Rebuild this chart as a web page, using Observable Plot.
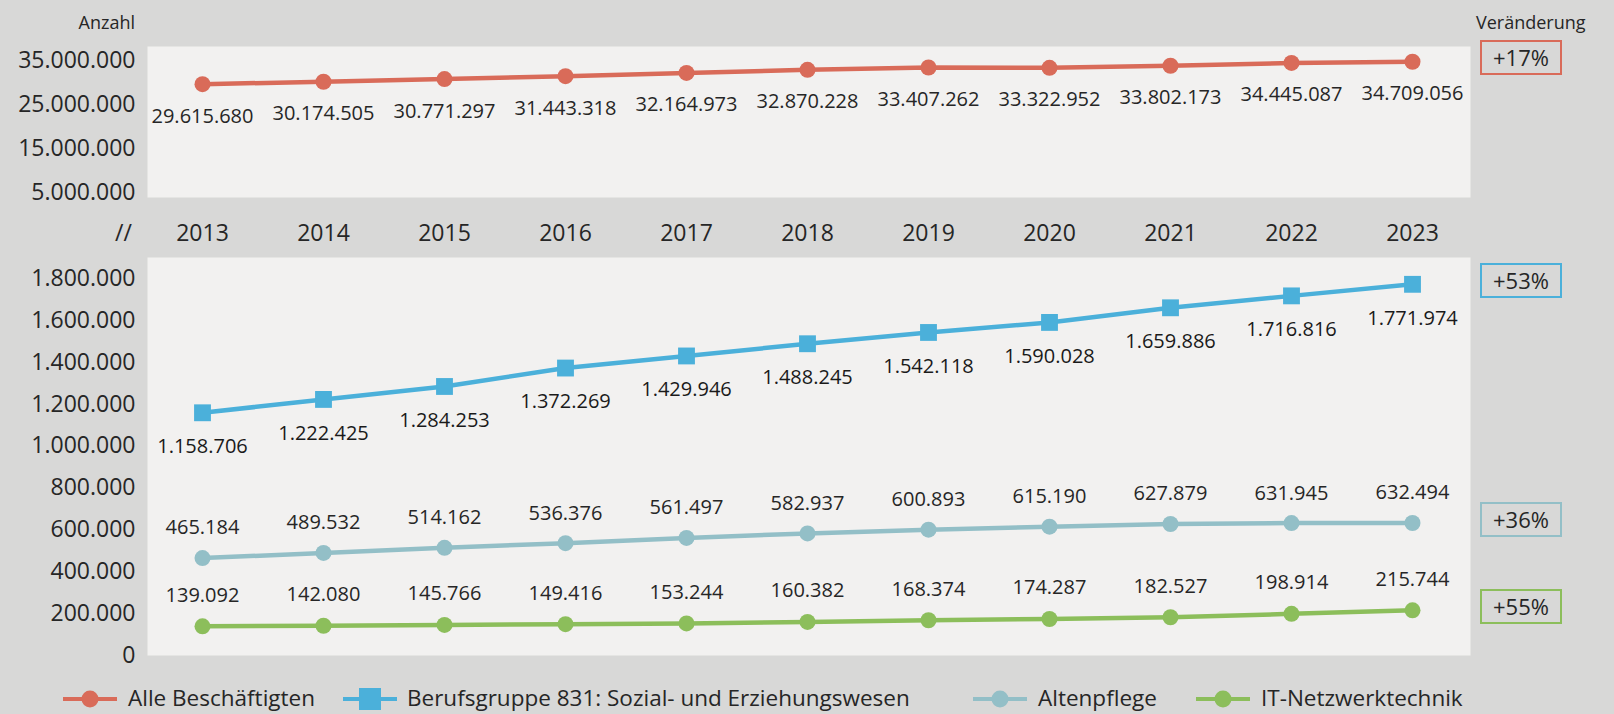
<!DOCTYPE html>
<html><head><meta charset="utf-8">
<script src="https://cdn.jsdelivr.net/npm/d3@7"></script>
<script src="https://cdn.jsdelivr.net/npm/@observablehq/plot@0.6"></script>
<style>
html,body{margin:0;padding:0;background:#D8D8D7;}
#root{position:relative;width:1614px;height:714px;overflow:hidden;font-family:"Open Sans",sans-serif;color:#262626;background:#D8D8D7;}
#root svg{position:absolute;left:0;overflow:visible;}
.t{position:absolute;white-space:nowrap;}
.badge{position:absolute;box-sizing:border-box;border:2px solid;width:82px;height:35px;line-height:31px;text-align:center;font-size:22px;color:#262626;}
.legtxt{position:absolute;top:684px;height:28px;line-height:28px;font-size:22.5px;white-space:nowrap;color:#262626;}
</style></head><body><div id="root"></div>
<script>
// ---- data ----
const years = [2013, 2014, 2015, 2016, 2017, 2018, 2019, 2020, 2021, 2022, 2023];
const alleBeschaeftigten = [29615680, 30174505, 30771297, 31443318, 32164973, 32870228, 33407262, 33322952, 33802173, 34445087, 34709056];
const sozialErziehung = [1158706, 1222425, 1284253, 1372269, 1429946, 1488245, 1542118, 1590028, 1659886, 1716816, 1771974];
const altenpflege = [465184, 489532, 514162, 536376, 561497, 582937, 600893, 615190, 627879, 631945, 632494];
const itNetzwerk = [139092, 142080, 145766, 149416, 153244, 160382, 168374, 174287, 182527, 198914, 215744];
const seriesNames = ["Alle Beschäftigten", "Berufsgruppe 831: Sozial- und Erziehungswesen", "Altenpflege", "IT-Netzwerktechnik"];
const seriesColors = ["#D96B59", "#4BB0DA", "#93BFC7", "#8CBE5B"];
const topTicks = [5000000, 15000000, 25000000, 35000000];
const bottomTicks = [0, 200000, 400000, 600000, 800000, 1000000, 1200000, 1400000, 1600000, 1800000];

// ---- helpers ----
const fmt = d3.formatLocale({decimal: ",", thousands: ".", grouping: [3], currency: ["", "€"]}).format(",d");
const root = document.getElementById("root");
const txt = "#262626";
const FONT = "Open Sans";
const rows = (vals) => years.map((y, i) => ({year: y, value: vals[i]}));

// ---- top chart ----
const topData = rows(alleBeschaeftigten);
const topChart = Plot.plot({
  width: 1614, height: 250,
  marginTop: 46, marginBottom: 53, marginLeft: 147, marginRight: 144,
  style: {background: "transparent", fontFamily: FONT, color: txt, overflow: "visible"},
  x: {domain: [2013, 2023], range: [202, 1412]},
  y: {domain: [3.86e6, 38.18e6]},
  marks: [
    Plot.frame({fill: "#F2F1F0", stroke: null}),
    Plot.axisX({ticks: years, tickFormat: d => String(d), tickSize: 0, tickPadding: 27, fontSize: 23, fill: txt, label: null}),
    Plot.axisY({ticks: topTicks, tickFormat: fmt, tickSize: 0, tickPadding: 12, fontSize: 23, fill: txt, label: null}),
    Plot.line(topData, {x: "year", y: "value", stroke: seriesColors[0], strokeWidth: 4.5}),
    Plot.dot(topData, {x: "year", y: "value", r: 8, fill: seriesColors[0], stroke: null}),
    Plot.text(topData, {x: "year", y: "value", text: d => fmt(d.value), dy: 32, fontSize: 20, fill: txt})
  ]
});
topChart.style.top = "0px";
root.appendChild(topChart);

// ---- bottom chart ----
const sData = rows(sozialErziehung), aData = rows(altenpflege), iData = rows(itNetzwerk);
const BOTTOM_TOP = 250;
const botChart = Plot.plot({
  width: 1614, height: 415,
  marginTop: 7, marginBottom: 10, marginLeft: 147, marginRight: 144,
  style: {background: "transparent", fontFamily: FONT, color: txt, overflow: "visible"},
  x: {domain: [2013, 2023], range: [202, 1412], axis: null},
  y: {domain: [0, 1.9e6]},
  marks: [
    Plot.frame({fill: "#F2F1F0", stroke: null}),
    Plot.axisY({ticks: bottomTicks, tickFormat: fmt, tickSize: 0, tickPadding: 12, fontSize: 23, fill: txt, label: null}),
    Plot.line(sData, {x: "year", y: "value", stroke: seriesColors[1], strokeWidth: 4.5}),
    Plot.dot(sData, {x: "year", y: "value", r: 9.5, symbol: "square", fill: seriesColors[1], stroke: null}),
    Plot.text(sData, {x: "year", y: "value", text: d => fmt(d.value), dy: 34, fontSize: 20, fill: "#1a1a1a", fontWeight: 500}),
    Plot.line(aData, {x: "year", y: "value", stroke: seriesColors[2], strokeWidth: 4.5}),
    Plot.dot(aData, {x: "year", y: "value", r: 8, fill: seriesColors[2], stroke: null}),
    Plot.text(aData, {x: "year", y: "value", text: d => fmt(d.value), dy: -30, fontSize: 20, fill: txt}),
    Plot.line(iData, {x: "year", y: "value", stroke: seriesColors[3], strokeWidth: 4.5}),
    Plot.dot(iData, {x: "year", y: "value", r: 8, fill: seriesColors[3], stroke: null}),
    Plot.text(iData, {x: "year", y: "value", text: d => fmt(d.value), dy: -31, fontSize: 20, fill: txt})
  ]
});
botChart.style.top = BOTTOM_TOP + "px";
root.appendChild(botChart);

// ---- labels ----
function addText(s, css) {
  const d = document.createElement("div");
  d.className = "t"; d.textContent = s;
  Object.assign(d.style, css);
  root.appendChild(d);
  return d;
}
addText("Anzahl", {right: (1614 - 135) + "px", top: "7px", fontSize: "18px", lineHeight: "30px"});
addText("Veränderung", {left: "1476px", top: "7px", fontSize: "18px", lineHeight: "30px"});
addText("//", {left: "115px", top: "215px", fontSize: "23px", lineHeight: "34px"});

// ---- change badges (computed from data, placed with the charts' scales) ----
const change = v => "+" + Math.round((v[v.length - 1] / v[0] - 1) * 100) + "%";
const badgeDefs = [
  {vals: alleBeschaeftigten, color: seriesColors[0], chart: topChart, off: 0},
  {vals: sozialErziehung, color: seriesColors[1], chart: botChart, off: BOTTOM_TOP},
  {vals: altenpflege, color: seriesColors[2], chart: botChart, off: BOTTOM_TOP},
  {vals: itNetzwerk, color: seriesColors[3], chart: botChart, off: BOTTOM_TOP}
];
for (const b of badgeDefs) {
  const cy = b.chart.scale("y").apply(b.vals[b.vals.length - 1]) + b.off - 3.5;
  const d = document.createElement("div");
  d.className = "badge";
  d.textContent = change(b.vals);
  d.style.left = "1480px";
  d.style.top = (cy - 17.5) + "px";
  d.style.borderColor = b.color;
  root.appendChild(d);
}

// ---- legend ----
const legendMarkerLeft = [63, 343, 973, 1196];
const legendTextLeft = [128, 407, 1038, 1261];
const legendSymbols = ["circle", "square", "circle", "circle"];
const ns = "http://www.w3.org/2000/svg";
seriesNames.forEach((name, i) => {
  const svg = document.createElementNS(ns, "svg");
  svg.setAttribute("width", 54); svg.setAttribute("height", 24);
  svg.style.left = legendMarkerLeft[i] + "px";
  svg.style.top = "687px";
  const line = document.createElementNS(ns, "line");
  line.setAttribute("x1", 0); line.setAttribute("x2", 54); line.setAttribute("y1", 12); line.setAttribute("y2", 12);
  line.setAttribute("stroke", seriesColors[i]); line.setAttribute("stroke-width", 4);
  svg.appendChild(line);
  if (legendSymbols[i] === "square") {
    const r = document.createElementNS(ns, "rect");
    r.setAttribute("x", 16); r.setAttribute("y", 1); r.setAttribute("width", 22); r.setAttribute("height", 22);
    r.setAttribute("fill", seriesColors[i]);
    svg.appendChild(r);
  } else {
    const c = document.createElementNS(ns, "circle");
    c.setAttribute("cx", 27); c.setAttribute("cy", 12); c.setAttribute("r", 8.5);
    c.setAttribute("fill", seriesColors[i]);
    svg.appendChild(c);
  }
  root.appendChild(svg);
  const s = document.createElement("div");
  s.className = "legtxt";
  s.style.left = legendTextLeft[i] + "px";
  s.textContent = name;
  root.appendChild(s);
});
</script></body></html>
